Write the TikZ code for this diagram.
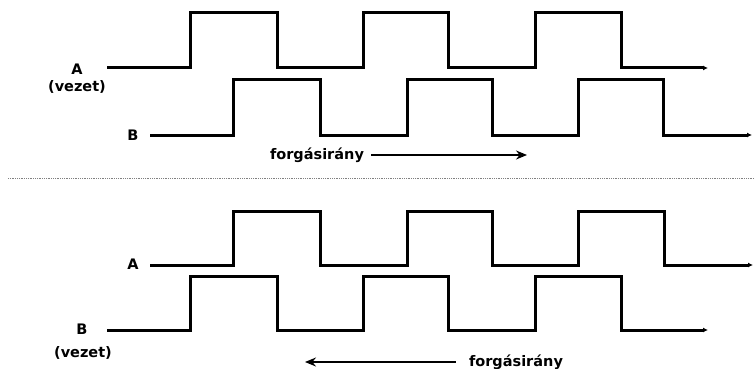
\documentclass[tikz,border=0pt]{standalone}
\usepackage{fontspec}
\setmainfont{DejaVu Sans}
\usetikzlibrary{arrows.meta}
\begin{document}
\begin{tikzpicture}[x=1pt,y=-1pt,
      wave/.style={line width=3pt,-{Latex[length=5pt,width=5pt]}},
      lbl/.style={font=\fontsize{14.5}{17}\selectfont\bfseries,inner sep=2pt},
      dir/.style={-{Stealth[length=11pt,width=9pt]},line width=1.5pt}
    ]
    \useasboundingbox (0,0) rectangle (755,369);
    % Upper case: A leads
    \node[lbl] (labA1) at (77,69) {A};
    \node[lbl] (vezA)  at (77,87) {(vezet)};
    \node[lbl] (labB1) at (133,135) {B};
    \draw[wave] (107,68) -- (190,68) -- (190,13) -- (277,13) -- (277,68)
      -- (363,68) -- (363,13) -- (448,13) -- (448,68)
      -- (535,68) -- (535,13) -- (621,13) -- (621,68) -- (708,68);
    \draw[wave] (150,135) -- (233,135) -- (233,80) -- (320,80) -- (320,135)
      -- (407,135) -- (407,80) -- (492,80) -- (492,135)
      -- (578,135) -- (578,80) -- (663,80) -- (663,135) -- (752,135);
    % Direction of rotation
    \node[lbl] (dirA) at (317,155) {forgásirány};
    \coordinate (tipA) at (527,155);
    \draw[dir] ([xshift=5pt]dirA.east) -- (tipA);
    % Separator
    \draw[gray,densely dotted,line width=0.8pt] (8,178) -- (755,178);
    % Lower case: B leads
    \node[lbl] (labA2) at (133,264) {A};
    \node[lbl] (labB2) at (82,329) {B};
    \node[lbl] (vezB)  at (83,353) {(vezet)};
    \draw[wave] (150,265) -- (233,265) -- (233,211) -- (320,211) -- (320,265)
      -- (407,265) -- (407,211) -- (492,211) -- (492,265)
      -- (578,265) -- (578,211) -- (664,211) -- (664,265) -- (753,265);
    \draw[wave] (107,330) -- (190,330) -- (190,276) -- (277,276) -- (277,330)
      -- (363,330) -- (363,276) -- (448,276) -- (448,330)
      -- (535,330) -- (535,276) -- (621,276) -- (621,330) -- (708,330);
    % Direction of rotation
    \node[lbl] (dirB) at (516,362) {forgásirány};
    \coordinate (tipB) at (305,362);
    \draw[dir] ([xshift=-11pt]dirB.west) -- (tipB);
\end{tikzpicture}
\end{document}
